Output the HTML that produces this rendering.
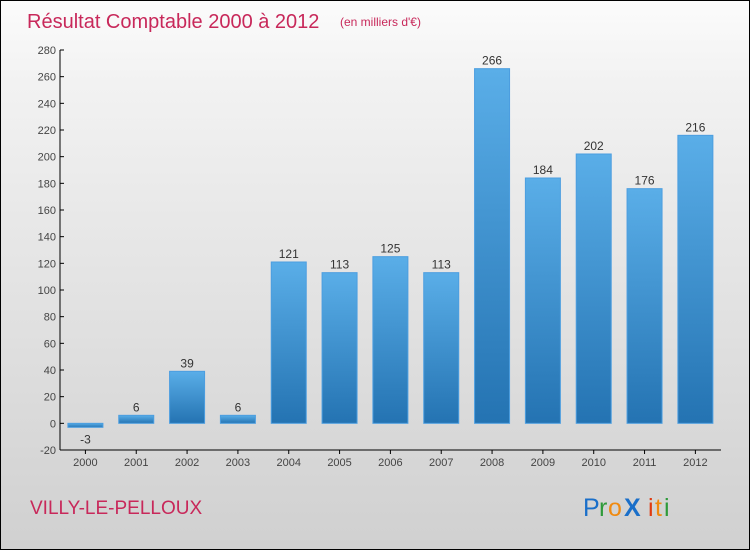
<!DOCTYPE html>
<html><head><meta charset="utf-8"><style>
html,body{margin:0;padding:0}
body{width:750px;height:550px;overflow:hidden;font-family:"Liberation Sans",sans-serif}
#wrap{position:absolute;left:0;top:0;width:748px;height:548px;border:1px solid #000;background:linear-gradient(#fbfbfb,#f2f2f2 15%,#d0d0d0)}
</style></head><body>
<div id="wrap">
<svg width="750" height="550" style="position:absolute;left:-1px;top:-1px">
<defs><linearGradient id="bg" x1="0" y1="0" x2="0" y2="1"><stop offset="0" stop-color="#5aaee8"/><stop offset="1" stop-color="#2473b2"/></linearGradient></defs>
<text x="27" y="28" font-size="20" fill="#c8285a">Résultat Comptable 2000 à 2012</text>
<text x="340" y="26" font-size="12" fill="#c8285a">(en milliers d'€)</text>
<g id="axes"></g><g id="bars"></g>
<text x="30" y="514" font-size="19" fill="#c8285a">VILLY-LE-PELLOUX</text>
<g font-size="25" font-family="'Liberation Sans',sans-serif">
<text x="583" y="516" fill="#1a6fc9">P</text><text x="599" y="516" fill="#2e9a3a">r</text><text x="608" y="516" fill="#f08a10">o</text><text x="624" y="516" fill="#1a6fc9" font-weight="bold">X</text><text x="648" y="516" fill="#e03a10">i</text><text x="655" y="516" fill="#f08a10">t</text><text x="664" y="516" fill="#2e9a3a">i</text></g>
</svg></div>
<script>
const years=["2000","2001","2002","2003","2004","2005","2006","2007","2008","2009","2010","2011","2012"];
const values=[-3,6,39,6,121,113,125,113,266,184,202,176,216];
const yTicks=[-20,0,20,40,60,80,100,120,140,160,180,200,220,240,260,280];
const NS="http://www.w3.org/2000/svg";
const y=v=>423.33-(v*400/300);
const band=(720.8-60)/years.length;
const x=i=>60+band*(i+0.5);
function mk(t,a,p){const e=document.createElementNS(NS,t);for(const k in a)e.setAttribute(k,a[k]);p.appendChild(e);return e;}
const ax=document.getElementById('axes'),bg=document.getElementById('bars');
const yl=mk('line',{x1:60,y1:y(280),x2:60,y2:450,stroke:'#000'},ax);


const xl=mk('line',{x1:60,y1:450,x2:721,y2:450,stroke:'#000'},ax);


yTicks.forEach(v=>{
 mk('line',{x1:60,y1:y(v),x2:64,y2:y(v),stroke:'#000'},ax);
 const t=mk('text',{x:56,y:y(v)+4,'text-anchor':'end','font-size':11,fill:'#444'},ax);t.textContent=v;
 
 
});
years.forEach((yr,i)=>{
 mk('line',{x1:x(i),y1:450,x2:x(i),y2:454,stroke:'#000'},ax);
 const t=mk('text',{x:x(i),y:466,'text-anchor':'middle','font-size':11,fill:'#444'},ax);t.textContent=yr;
 
 
 const v=values[i],top=Math.min(y(v),y(0)),h=Math.max(Math.abs(y(v)-y(0)),1);
 const r=mk('rect',{x:x(i)-17.5,y:top,width:35,height:h,fill:'url(#bg)',stroke:'#4c9ee0','stroke-width':1},bg);
 
 
 const l=mk('text',{x:x(i),y:v>=0?y(v)-4:y(v)+16,'text-anchor':'middle','font-size':12,fill:'#333'},bg);l.textContent=v;
 
 
});
</script>
</body></html>
